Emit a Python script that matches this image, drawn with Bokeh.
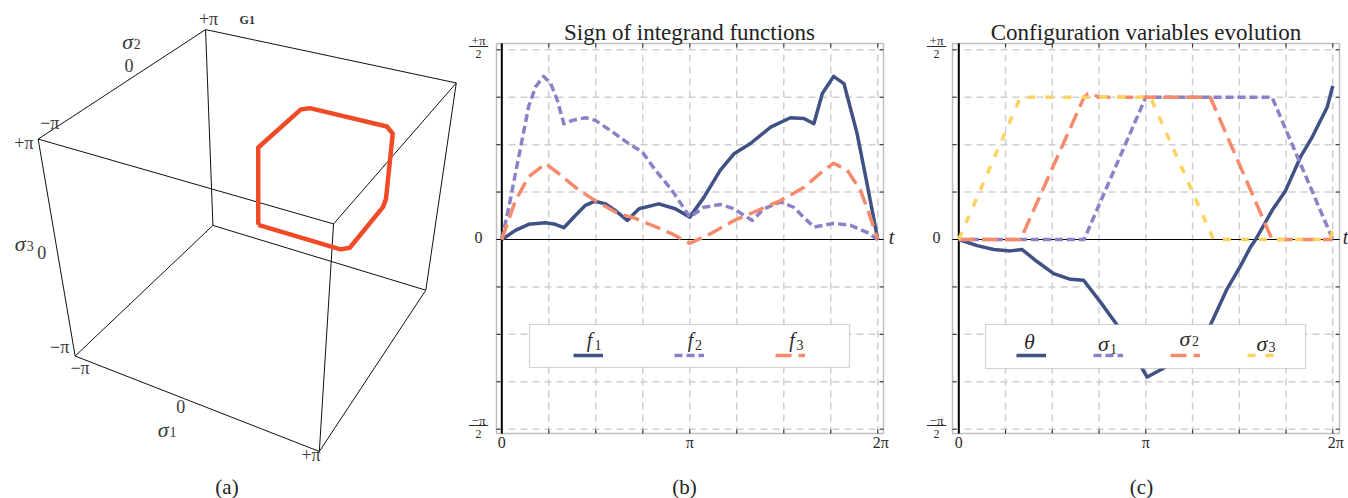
import itertools
import numpy as np
from bokeh.plotting import figure
from bokeh.layouts import row
from bokeh.models import (Label, BoxAnnotation, Legend, LegendItem, Range1d,
                          ColumnDataSource)
from bokeh.core.properties import value
from bokeh.embed import file_html
from bokeh.resources import INLINE

PI = np.pi
SERIF = "Liberation Serif"
NAVY = "#3f5185"
PURPLE = "#8a82c8"
SALMON = "#f58a6c"
YELLOW = "#fdd25e"
RED = "#f04b26"
GRID = "#cfcfcf"
INK = "#2b2b2b"

# ---------------- panel (b): sign of integrand functions (t and values in units of pi)
f1_t = [0, 0.0725, 0.1425, 0.2325, 0.285, 0.33, 0.3925, 0.445, 0.495, 0.5525, 0.605, 0.6675,
        0.73, 0.835, 0.9225, 1.0, 1.075, 1.1625, 1.235, 1.3225, 1.43, 1.535, 1.6075, 1.66,
        1.705, 1.765, 1.82, 1.89, 1.9425, 2.0]
f1_v = [0, 0.024, 0.040, 0.044, 0.040, 0.031, 0.064, 0.090, 0.101, 0.094, 0.076, 0.050,
        0.081, 0.094, 0.081, 0.059, 0.111, 0.183, 0.226, 0.253, 0.296, 0.321, 0.319, 0.305,
        0.385, 0.430, 0.411, 0.279, 0.148, 0.0]
f2_t = [0, 0.0375, 0.0725, 0.1075, 0.1425, 0.18, 0.2225, 0.26, 0.295, 0.33, 0.375, 0.445,
        0.4975, 0.5875, 0.675, 0.7475, 0.8175, 0.905, 1.0, 1.075, 1.1625, 1.235, 1.3325,
        1.395, 1.4825, 1.5525, 1.66, 1.765, 1.855, 1.9425, 2.0]
f2_v = [0, 0.085, 0.174, 0.261, 0.350, 0.4025, 0.430, 0.411, 0.3675, 0.305, 0.314, 0.321,
        0.314, 0.284, 0.2525, 0.231, 0.1825, 0.130, 0.059, 0.085, 0.0925, 0.081, 0.050,
        0.081, 0.099, 0.085, 0.0325, 0.0425, 0.0375, 0.019, 0.0]
f3_t = [0, 0.0725, 0.1425, 0.2325, 0.3025, 0.41, 0.4975, 0.6225, 0.6925, 0.80, 0.905, 1.0,
        1.11, 1.235, 1.36, 1.4825, 1.6075, 1.7125, 1.765, 1.8375, 1.9075, 1.96, 2.0]
f3_v = [0, 0.1025, 0.165, 0.200, 0.174, 0.130, 0.1025, 0.0675, 0.059, 0.0375, 0.015, -0.010,
        0.015, 0.050, 0.076, 0.1025, 0.1375, 0.1825, 0.201, 0.1825, 0.130, 0.059, 0.0]

# ---------------- panel (c): configuration variables evolution (units of pi)
theta_t = [0, 0.0975, 0.1875, 0.275, 0.3375, 0.42, 0.5075, 0.5975, 0.6675, 0.7575, 0.8475,
           1.0075, 1.0975, 1.345, 1.435, 1.5075, 1.56, 1.5875, 1.675, 1.7475, 1.8275, 1.89,
           1.97, 2.0]
theta_v = [0, -0.01625, -0.02625, -0.03, -0.02625, -0.05875, -0.09, -0.105, -0.1075, -0.165,
           -0.22625, -0.3625, -0.33875, -0.22625, -0.13, -0.06875, -0.02, 0, 0.07625, 0.12875,
           0.2175, 0.27, 0.34875, 0.405]
sigma1_t = [0, 0.67, 1.0, 1.675, 2.0]
sigma1_v = [0, 0, 0.375, 0.375, 0]
sigma2_t = [0, 0.33, 0.67, 0.69, 0.72, 0.745, 1.345, 1.675, 2.0]
sigma2_v = [0, 0, 0.375, 0.384, 0.384, 0.375, 0.375, 0, 0]
sigma3_t = [0, 0.33, 1.025, 1.3625, 1.985, 2.0]
sigma3_v = [0, 0.375, 0.375, 0, 0, 0.025]

# ---------------- panel (a): 3-D path in (sigma1, sigma2, sigma3), radians
path_s1 = [0, 0, 0, 0.15, 2.02, 2.17, 2.17, 2.17, 2.17, 2.02, 0]
path_s2 = [0, 0, 2.02, 2.17, 2.17, 2.17, 2.17, 2.02, 0.15, 0, 0]
path_s3 = [0, 2.17, 2.17, 2.17, 2.17, 2.02, 0.15, 0, 0, 0, 0]
cube_lim = [-PI, PI]
axis_tick_vals = [-PI, 0.0, PI]
axis_tick_text = ["\u2212\u03c0", "0", "+\u03c0"]

# ---------------- ticks for panels (b), (c)
x_major = [0, PI, 2 * PI]
x_major_text = ["0", "\u03c0", "2\u03c0"]
x_grid = [k * PI / 4 for k in range(1, 9)]
x_minor = [k * PI / 4 for k in range(0, 9)]
y_grid = [m * PI / 8 for m in range(-4, 5) if m != 0]
y_minor = [m * PI / 8 for m in range(-4, 5)]
y_frac = [(PI / 2, "+\u03c0"), (-PI / 2, "\u2212\u03c0")]

# =====================================================================
# panel (a): perspective view of the cube [-pi, pi]^3
VIEW_POINT = np.array([1.3, -2.4, 2.0])


def project(s1, s2, s3):
    X = np.column_stack([np.atleast_1d(s1), np.atleast_1d(s2), np.atleast_1d(s3)]).astype(float)
    X = X / (2 * PI)
    fwd = -VIEW_POINT / np.linalg.norm(VIEW_POINT)
    right = np.cross(fwd, [0, 0, 1.0])
    right /= np.linalg.norm(right)
    up = np.cross(right, fwd)
    v = X - VIEW_POINT
    depth = v @ fwd
    return (v @ right) / depth, (v @ up) / depth


AX0, AX1, AY0, AY1 = -0.2713, 0.2182, -0.3099, 0.2541
pa = figure(width=465, height=498, x_range=Range1d(AX0, AX1), y_range=Range1d(AY0, AY1),
            output_backend="svg", toolbar_location=None, min_border=0, title=None,
            x_axis_location=None, y_axis_location=None, outline_line_color=None)
pa.grid.visible = False

xs, ys = [], []
corners = list(itertools.product(cube_lim, repeat=3))
for a, b in itertools.combinations(corners, 2):
    if sum(1 for i in range(3) if a[i] != b[i]) == 1:
        ex, ey = project([a[0], b[0]], [a[1], b[1]], [a[2], b[2]])
        xs.append(list(ex))
        ys.append(list(ey))
pa.multi_line(xs, ys, line_color="#111111", line_width=1.0)

px_, py_ = project(path_s1, path_s2, path_s3)
pa.line(px_, py_, line_color=RED, line_width=4.5, line_join="round")

lab_x, lab_y, lab_t, lab_xo, lab_yo = [], [], [], [], []
tick_offsets = {
    "s1": [(4.9, 11.7), (-9.4, 5.8), (-8.3, 3.6)],
    "s2": [(11.6, -15.8), (-2.0, -13.2), (3.0, -10.3)],
    "s3": [(-15.4, -9.3), (-16.5, -5.3), (-14.3, 4.2)],
}
for i, tv in enumerate(axis_tick_vals):
    for ax, pt in (("s1", (tv, -PI, -PI)), ("s2", (-PI, tv, PI)), ("s3", (-PI, -PI, tv))):
        ax_, ay_ = project(*pt)
        lab_x.append(ax_[0]); lab_y.append(ay_[0]); lab_t.append(axis_tick_text[i])
        lab_xo.append(tick_offsets[ax][i][0]); lab_yo.append(tick_offsets[ax][i][1])
pa.text(x="x", y="y", text="t", x_offset="xo", y_offset="yo",
        source=ColumnDataSource(dict(x=lab_x, y=lab_y, t=lab_t, xo=lab_xo, yo=lab_yo)),
        text_font=value(SERIF), text_font_size="18px", text_color="#3a3a3a",
        text_align="center", text_baseline="middle")

name_anchor = [(0.0, -PI, -PI), (-PI, 0.0, PI), (-PI, -PI, 0.0)]
name_sig_off = [(-26.9, 28.5), (-3.3, -37.4), (-38.1, -14.2)]
name_dig_off = [(-17.2, 31.5), (6.4, -34.4), (-28.1, -11.3)]
nx, ny = [], []
for pt in name_anchor:
    a1, a2 = project(*pt)
    nx.append(a1[0]); ny.append(a2[0])
pa.text(x=nx, y=ny, text=["\u03c3"] * 3, x_offset=[o[0] for o in name_sig_off],
        y_offset=[o[1] for o in name_sig_off], text_font=value(SERIF),
        text_font_style="italic", text_font_size="22px", text_color="#3a3a3a",
        text_align="center", text_baseline="middle")
pa.text(x=nx, y=ny, text=["1", "2", "3"], x_offset=[o[0] for o in name_dig_off],
        y_offset=[o[1] for o in name_dig_off], text_font=value(SERIF),
        text_font_size="14px", text_color="#3a3a3a", text_align="center",
        text_baseline="middle")
gx, gy = project(-PI, PI, PI)
pa.text(x=list(gx), y=list(gy), text=["G1"], x_offset=[41.7], y_offset=[-9.1],
        text_font=value(SERIF), text_font_size="12px", text_font_style="bold",
        text_color="#333333", text_align="center", text_baseline="middle")
pa.add_layout(Label(x=AX0 + 226.5 * (AX1 - AX0) / 465, y=AY1 - 486.5 * (AY1 - AY0) / 498,
                    text="(a)", text_font=SERIF, text_font_size="21px",
                    text_color="#222222", text_align="center", text_baseline="middle"))


# =====================================================================
# panels (b), (c): the frame covers the whole canvas; the plot box is drawn inside it
class Geom:
    """page pixel <-> data mapping of one panel"""

    def __init__(self, fig_left, width, t0_px, px_per_unit, box_left, box_right):
        self.fig_left, self.width = fig_left, width
        self.t0, self.sx = t0_px, px_per_unit
        self.y0px, self.sy = 239.0, 120.77
        self.bx0, self.bx1 = self.dx(box_left), self.dx(box_right)
        self.by0, self.by1 = self.dy(433), self.dy(43)

    def dx(self, ax):
        return (ax - self.t0) / self.sx

    def dy(self, ay):
        return (self.y0px - ay) / self.sy


def lab(p, g, ax, ay, text, size, style="normal", align="center", color=INK):
    """text whose em-box middle sits at page pixel (ax, ay)"""
    p.add_layout(Label(x=g.dx(ax), y=g.dy(ay), text=text, text_font=SERIF,
                       text_font_size=size, text_font_style=style, text_color=color,
                       text_align=align, text_baseline="middle"))


def make_panel(title, g, title_cx):
    p = figure(width=g.width, height=498,
               x_range=Range1d(g.dx(g.fig_left), g.dx(g.fig_left + g.width)),
               y_range=Range1d(g.dy(498), g.dy(0)), min_border=0, title=None,
               x_axis_location=None, y_axis_location=None, outline_line_color=None,
               output_backend="svg", toolbar_location=None)
    p.grid.visible = False
    p.background_fill_color = "white"
    n = len(x_grid)
    p.segment(x0=x_grid, y0=[g.by0] * n, x1=x_grid, y1=[g.by1] * n, line_color=GRID,
              line_width=1.5, line_dash="7 5")
    n = len(y_grid)
    p.segment(x0=[g.bx0] * n, y0=y_grid, x1=[g.bx1] * n, y1=y_grid, line_color=GRID,
              line_width=1.5, line_dash="7 5")
    tk = 4.0
    n = len(x_minor)
    p.segment(x0=x_minor, y0=[g.by0] * n, x1=x_minor, y1=[g.by0 + tk / g.sy] * n,
              line_color=INK, line_width=1)
    p.segment(x0=x_minor, y0=[g.by1] * n, x1=x_minor, y1=[g.by1 - tk / g.sy] * n,
              line_color=INK, line_width=1)
    n = len(y_minor)
    p.segment(x0=[g.bx0] * n, y0=y_minor, x1=[g.bx0 + tk / g.sx] * n, y1=y_minor,
              line_color=INK, line_width=1)
    p.segment(x0=[g.bx1] * n, y0=y_minor, x1=[g.bx1 - tk / g.sx] * n, y1=y_minor,
              line_color=INK, line_width=1)
    p.segment(x0=[0, g.bx0], y0=[g.by0, 0], x1=[0, g.bx1], y1=[g.by1, 0],
              line_color="black", line_width=[2.0, 1.2])
    lab(p, g, title_cx, 31.5, title, "23px", color="#222222")
    for tv, tt in zip(x_major, x_major_text):
        ax = g.t0 + tv * g.sx + (3 if tt == "2\u03c0" else 0)
        lab(p, g, ax, 442, tt, "16px")
    return p


def y_tick_labels(p, g, cx):
    lab(p, g, cx, 237, "0", "16px")
    for tv, num in y_frac:
        ty = g.y0px - tv * g.sy
        lab(p, g, cx, ty - 9.0, num, "13px")
        lab(p, g, cx, ty - 5.5, "\u2014", "19px")
        lab(p, g, cx, ty + 4.3, "2", "12px")


def legend_block(p, g, box, renderers, glyph_left, pitch, texts):
    p.add_layout(BoxAnnotation(left=g.dx(box[0]), right=g.dx(box[1]), top=g.dy(box[2]),
                               bottom=g.dy(box[3]), fill_color="white", fill_alpha=1.0,
                               line_color="#6f6f6f", line_width=1.2))
    leg = Legend(items=[LegendItem(label=" ", renderers=[r]) for r in renderers],
                 orientation="horizontal", location=(glyph_left - g.fig_left, 498 - 358),
                 glyph_width=30, glyph_height=6, label_width=0, label_height=0,
                 label_standoff=0, spacing=pitch - 30, padding=0, margin=0,
                 border_line_color=None, background_fill_alpha=0,
                 label_text_font_size="1px")
    p.add_layout(leg)
    for (sym, sx, sy, ssize, dig, dx_, dy_) in texts:
        lab(p, g, sx, sy, sym, ssize, style="italic")
        if dig:
            lab(p, g, dx_, dy_, dig, "14px")


def plot_box(p, g):
    p.add_layout(BoxAnnotation(left=g.bx0, right=g.bx1, bottom=g.by0, top=g.by1,
                               fill_alpha=0, line_color=INK, line_width=1.5))


# ---------------- panel (b)
gb = Geom(465, 435, 501.3, 59.84, 496, 883)
pb = make_panel("Sign of integrand functions", gb, 689)
rb1 = pb.line(np.array(f1_t) * PI, np.array(f1_v) * PI, line_color=NAVY, line_width=3.5,
              line_join="round")
rb2 = pb.line(np.array(f2_t) * PI, np.array(f2_v) * PI, line_color=PURPLE, line_width=3.5,
              line_dash="8 4", line_join="round")
rb3 = pb.line(np.array(f3_t) * PI, np.array(f3_v) * PI, line_color=SALMON, line_width=3.5,
              line_dash="16 7", line_join="round")
plot_box(pb, gb)
y_tick_labels(pb, gb, 478)
lab(pb, gb, 891, 236.5, "t", "20px", style="italic")
lab(pb, gb, 684, 486.5, "(b)", "21px", color="#222222")
legend_block(pb, gb, (529, 849, 324, 367), [rb1, rb2, rb3], 573, 101,
             [("f", 589, 339.3, "20px", "1", 597.5, 344.3),
              ("f", 690, 339.3, "20px", "2", 698, 344.3),
              ("f", 791.5, 339.3, "20px", "3", 799.5, 344.3)])

# ---------------- panel (c)
gc = Geom(900, 448, 958.3, 59.52, 952, 1339)
pc = make_panel("Configuration variables evolution", gc, 1145.5)
rc0 = pc.line(np.array(theta_t) * PI, np.array(theta_v) * PI, line_color=NAVY,
              line_width=3.5, line_join="round")
rc1 = pc.line(np.array(sigma1_t) * PI, np.array(sigma1_v) * PI, line_color=PURPLE,
              line_width=3.5, line_dash="8 4", line_join="round")
rc2 = pc.line(np.array(sigma2_t) * PI, np.array(sigma2_v) * PI, line_color=SALMON,
              line_width=3.5, line_dash="16 7", line_join="round")
rc3 = pc.line(np.array(sigma3_t) * PI, np.array(sigma3_v) * PI, line_color=YELLOW,
              line_width=3.5, line_dash="8 10", line_join="round")
plot_box(pc, gc)
y_tick_labels(pc, gc, 936)
lab(pc, gc, 1345, 236.5, "t", "20px", style="italic")
lab(pc, gc, 1141, 486.5, "(c)", "21px", color="#222222")
legend_block(pc, gc, (985, 1305, 324, 368), [rc0, rc1, rc2, rc3], 1016, 77,
             [("\u03b8", 1029, 340.5, "22px", "", 0, 0),
              ("\u03c3", 1103, 342.6, "22px", "1", 1113, 348.3),
              ("\u03c3", 1184.4, 337.6, "22px", "2", 1195, 340.3),
              ("\u03c3", 1261.5, 342.6, "22px", "3", 1271.5, 346)])

layout = row(pa, pb, pc)
open("out.html", "w").write(file_html(layout, INLINE))
